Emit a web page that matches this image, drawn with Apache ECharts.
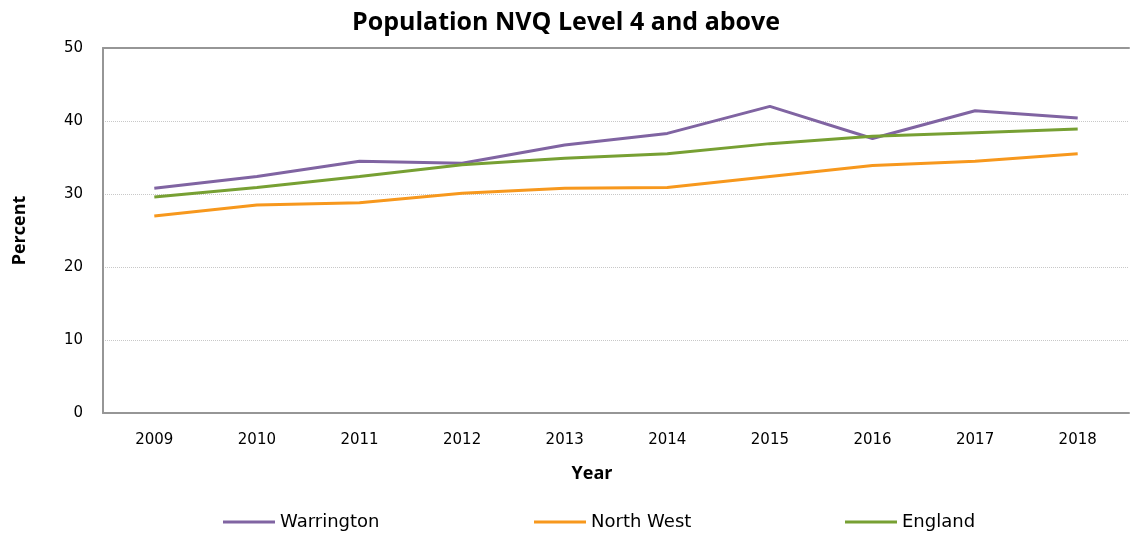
<!DOCTYPE html>
<html>
<head>
<meta charset="utf-8">
<script src="https://cdn.jsdelivr.net/npm/echarts@6/dist/echarts.min.js"></script>
<style>
  html, body { margin: 0; padding: 0; background: #fff; }
  #chart { width: 1132px; height: 536px; }
</style>
</head>
<body>
<div id="chart"></div>
<script>
// data
var years = ["2009", "2010", "2011", "2012", "2013", "2014", "2015", "2016", "2017", "2018"];
var warrington = [30.8, 32.4, 34.5, 34.2, 36.7, 38.3, 42.0, 37.6, 41.4, 40.4];
var northWest = [27.0, 28.5, 28.8, 30.1, 30.8, 30.9, 32.4, 33.9, 34.5, 35.5];
var england = [29.6, 30.9, 32.4, 34.0, 34.9, 35.5, 36.9, 37.9, 38.4, 38.9];

var seriesNames = ["Warrington", "North West", "England"];
var seriesColors = ["#8064a2", "#f7981d", "#77a033"];
var legendLeft = [218, 529, 840];

var titleFont = "'Open Sans', sans-serif";
var labelFont = "'DejaVu Sans', sans-serif";
var axisGrey = "#969696";

function lineSeries(name, data, color) {
  return {
    name: name,
    type: "line",
    data: data,
    symbol: "none",
    lineStyle: { color: color, width: 3 },
    itemStyle: { color: color }
  };
}

// one legend per item so they sit at the same spots as the reference
var legends = seriesNames.map(function(name, i) {
  return {
    bottom: 0,
    left: legendLeft[i],
    itemWidth: 52,
    itemHeight: 3,
    icon: "rect",
    textStyle: { fontFamily: labelFont, fontSize: 18, color: "#000" },
    data: [name]
  };
});

var myChart = echarts.init(document.getElementById("chart"));
myChart.setOption({
  animation: false,
  title: {
    text: "Population NVQ Level 4 and above",
    left: "center",
    top: 5,
    textStyle: { fontFamily: titleFont, fontSize: 25, fontWeight: "bold", color: "#000" }
  },
  grid: { left: 103, right: 3, top: 48, bottom: 123 },
  legend: legends,
  xAxis: [
    {
      type: "category",
      data: years,
      name: "Year",
      nameLocation: "middle",
      nameGap: 52,
      nameTextStyle: {
        fontFamily: titleFont, fontSize: 18, fontWeight: "bold", color: "#000",
        padding: [0, 48, 0, 0]
      },
      axisLine: { lineStyle: { color: axisGrey, width: 2 } },
      axisTick: { show: false },
      axisLabel: { fontFamily: labelFont, fontSize: 15, color: "#000", margin: 20 }
    },
    {
      // top border of the plot
      type: "category",
      data: years,
      position: "top",
      axisLine: { lineStyle: { color: axisGrey, width: 2 } },
      axisTick: { show: false },
      axisLabel: { show: false }
    }
  ],
  yAxis: {
    type: "value",
    min: 0,
    max: 50,
    interval: 10,
    name: "Percent",
    nameLocation: "middle",
    nameGap: 74,
    nameTextStyle: { fontFamily: titleFont, fontSize: 18, fontWeight: "bold", color: "#000" },
    axisLine: { show: true, lineStyle: { color: axisGrey, width: 2 } },
    axisTick: { show: false },
    axisLabel: { fontFamily: labelFont, fontSize: 15, color: "#000", margin: 20 },
    splitLine: { lineStyle: { color: "#c8c8c8", type: "dotted" } }
  },
  series: [
    lineSeries(seriesNames[0], warrington, seriesColors[0]),
    lineSeries(seriesNames[1], northWest, seriesColors[1]),
    lineSeries(seriesNames[2], england, seriesColors[2])
  ]
});
</script>
</body>
</html>
